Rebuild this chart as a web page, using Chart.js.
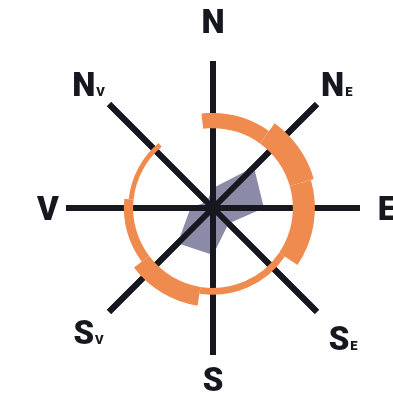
<!DOCTYPE html>
<html>
<head>
<meta charset="utf-8">
<script src="https://cdn.jsdelivr.net/npm/chart.js@4/dist/chart.umd.min.js"></script>
<style>
  html, body { margin: 0; padding: 0; background: #fff; overflow: hidden; }
  canvas { display: block; }
</style>
</head>
<body>
<canvas id="rose" width="393" height="394"></canvas>
<script>
// Compass directions, clockwise from north
const directions = ['N', 'NE', 'E', 'SE', 'S', 'SV', 'V', 'NV'];

// Grey polygon, one value per direction (the spokes run 0..30)
const windValues = [4.1, 11.8, 10.4, 4.5, 9.6, 10.2, 4.6, 1.8];

// Orange ring, segments clockwise from north: span in degrees and outer edge
const ringSpans = [36, 38, 50, 65, 44, 43, 44, 33, 7];
const ringOuter = [19.4, 21.4, 20.8, 17.7, 20.2, 18.2, 17.3, 16.3, 19.4];
const ringInner = 16.3;
const scaleMax = 30;

const INK = '#17171f';
const ORANGE = '#ef8b4f';
const GREY = '#8b8ba8';
const BIG_FONT = '900 33px Roboto, "Liberation Sans", sans-serif';
const SMALL_FONT = '900 13px Roboto, "Liberation Sans", sans-serif';
const labelGap = [40, 28, 27, 37, 24, 29, 18, 29];

// ring segments are hollow, spokes sit between polygon and ring, labels with subscripts
const roseExtras = {
    id: 'roseExtras',
    beforeDatasetDraw(chart, args) {
        if (args.index !== 0) return;
        const inner = chart.scales.r.getDistanceFromCenterForValue(ringInner);
        args.meta.data.forEach(arc => {
            arc.innerRadius = Math.min(inner, arc.outerRadius);
        });
    },
    afterDatasetDraw(chart, args) {
        if (args.index === 1) chart.scales.r.drawGrid(chart.chartArea);
    },
    afterDraw(chart) {
        const scale = chart.scales.r;
        const ctx = chart.ctx;
        ctx.save();
        ctx.fillStyle = INK;
        ctx.textAlign = 'left';
        ctx.textBaseline = 'alphabetic';
        directions.forEach((label, i) => {
            const p = scale.getPointPosition(i, scale.drawingArea + labelGap[i]);
            const big = label[0];
            const small = label.slice(1);
            ctx.font = BIG_FONT;
            const wb = ctx.measureText(big).width;
            ctx.font = SMALL_FONT;
            const ws = small ? ctx.measureText(small).width + 1 : 0;
            const x0 = p.x - (wb + ws) / 2;
            const base = p.y + 12;
            ctx.font = BIG_FONT;
            ctx.fillText(big, x0, base);
            if (small) {
                ctx.font = SMALL_FONT;
                ctx.fillText(small, x0 + wb + 1, base);
            }
        });
        ctx.restore();
    }
};

new Chart(document.getElementById('rose'), {
    type: 'radar',
    data: {
        labels: directions,
        datasets: [
            {
                type: 'polarArea',
                label: 'Ring',
                data: ringOuter,
                angle: ctx => ringSpans[ctx.dataIndex],
                backgroundColor: ORANGE,
                borderWidth: 0,
                order: 1
            },
            {
                label: 'Wind',
                data: windValues,
                fill: true,
                backgroundColor: GREY,
                borderWidth: 0,
                pointRadius: 0,
                order: 2
            }
        ]
    },
    options: {
        responsive: false,
        animation: false,
        layout: { padding: { left: 66, top: 61, right: 33, bottom: 39 } },
        plugins: {
            legend: { display: false },
            tooltip: { enabled: false }
        },
        scales: {
            r: {
                min: 0,
                max: scaleMax,
                startAngle: 0,
                beginAtZero: true,
                grid: { display: false },
                ticks: { display: false },
                pointLabels: { display: false },
                angleLines: { display: true, color: INK, lineWidth: 6 }
            }
        }
    },
    plugins: [roseExtras]
});
</script>
</body>
</html>
